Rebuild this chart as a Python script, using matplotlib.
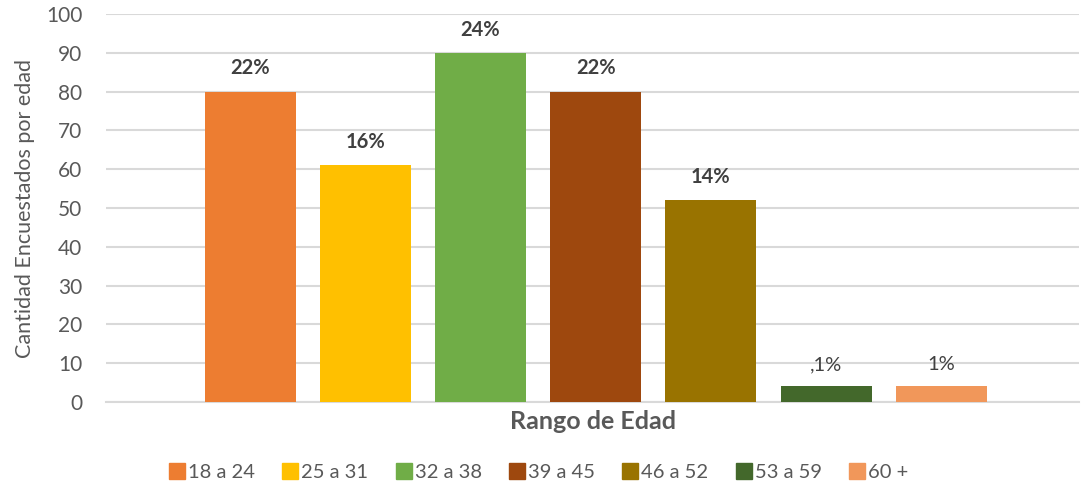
import matplotlib
matplotlib.use("Agg")
import matplotlib.pyplot as plt
from matplotlib.lines import Line2D

plt.rcParams['font.family'] = ['Lato', 'DejaVu Sans']

# Data
rangos = ["18 a 24", "25 a 31", "32 a 38", "39 a 45", "46 a 52", "53 a 59", "60 +"]
cantidad = [80, 61, 90, 80, 52, 4, 4]
etiquetas = ["22%", "16%", "24%", "22%", "14%", ",1%", "1%"]
negrita = [True, True, True, True, True, False, False]
colores = ["#ED7D31", "#FFC000", "#70AD47", "#9E480E", "#997300", "#43682B", "#F1975A"]

fig = plt.figure(figsize=(10.84, 4.9), dpi=100)
ax = fig.add_axes([0.0978, 0.1796, 0.898, 0.7918])

x = list(range(len(rangos)))
bars = ax.bar(x, cantidad, width=0.79, color=colores, zorder=3)

for xi, v, lab, b in zip(x, cantidad, etiquetas, negrita):
    ax.text(xi, v + 3.4, lab, ha="center", va="bottom",
            fontsize=14.5, fontweight="bold" if b else "normal",
            color="#404040")

ax.set_xlim(-1.25, 7.2)
ax.set_ylim(0, 100)
ax.set_yticks(range(0, 101, 10))
ax.set_xticks([])
ax.tick_params(axis="y", length=0, labelsize=15, labelcolor="#595959", pad=17)
ax.grid(axis="y", color="#d9d9d9", linewidth=1.5, zorder=0)
for s in ["top", "right", "left"]:
    ax.spines[s].set_visible(False)
ax.spines["bottom"].set_color("#d9d9d9")
ax.spines["bottom"].set_linewidth(1.5)

ax.set_ylabel("Cantidad Encuestados por edad", fontsize=15.5, color="#595959", labelpad=8)
ax.set_xlabel("Rango de Edad", fontsize=18, fontweight="bold", color="#595959", labelpad=6)

handles = [Line2D([0], [0], marker="s", linestyle="none", markersize=12,
                  markerfacecolor=c, markeredgecolor=c) for c in colores]
fig.legend(handles, rangos, loc="center", bbox_to_anchor=(0.496, 0.036), ncol=7,
           frameon=False, fontsize=14.5, labelcolor="#595959",
           handletextpad=0.05, columnspacing=1.25, handlelength=1.0)

fig.savefig("out.png", dpi=100)
